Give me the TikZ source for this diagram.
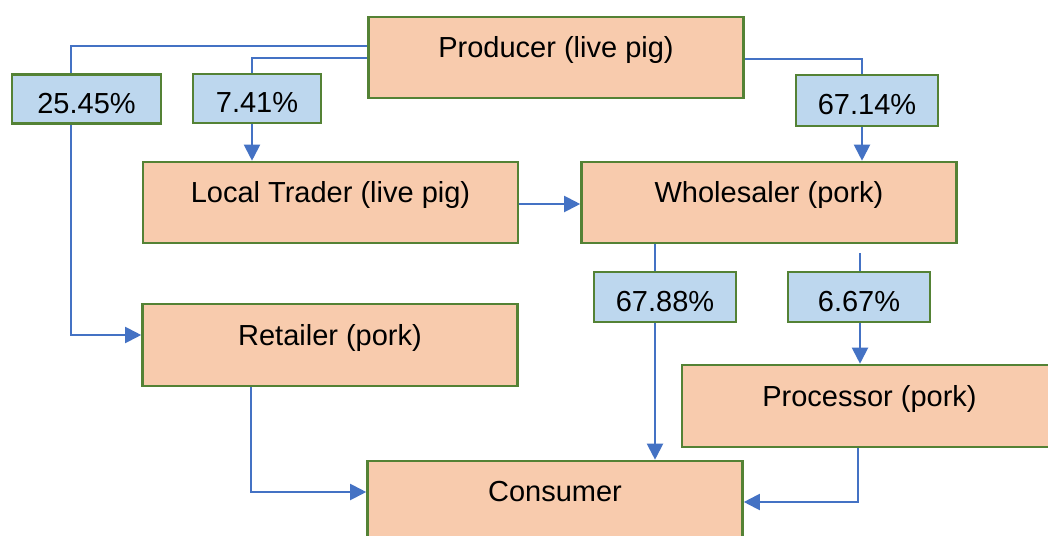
\documentclass[tikz,border=0pt]{standalone}
\usepackage{fontspec}
\setmainfont{Liberation Sans}
\usetikzlibrary{arrows.meta}
\definecolor{peach}{HTML}{F8CBAD}
\definecolor{paleblue}{HTML}{BDD7EE}
\definecolor{boxedge}{HTML}{548235}
\definecolor{flow}{HTML}{4472C4}
\tikzset{
  actor/.style={draw=boxedge, line width=2.6pt, fill=peach, inner sep=0pt,
    minimum width=375pt, minimum height=81pt, text height=0pt, text depth=0pt,
    font=\fontsize{29}{34}\selectfont},
  share/.style={draw=boxedge, line width=2.6pt, fill=paleblue, inner sep=0pt,
    minimum height=49pt, text height=28pt, text depth=0pt,
    font=\fontsize{29}{34}\selectfont},
  conn/.style={draw=flow, line width=2pt},
  arr/.style={conn, -{Triangle[width=16pt,length=16pt]}}
}
\begin{document}
\begin{tikzpicture}[x=1pt,y=-1pt]
\clip (0,0) rectangle (1048,535);
\fill[white] (0,0) rectangle (1048,535);

% market actors
\node[actor] (prod) at (556,57.5)   {Producer (live pig)};
\node[actor] (lt)   at (330.5,202.5) {Local Trader (live pig)};
\node[actor] (wh)   at (769,202.5)   {Wholesaler (pork)};
\node[actor, minimum height=82pt] (ret) at (330,345) {Retailer (pork)};
\node[actor, minimum height=82pt] (proc) at (869.5,406) {Processor (pork)};
\node[actor] (cons) at (555,501.5) {Consumer};

% shares of the flows
\node[share, minimum width=149pt] (p1) at (86.5,99)  {25.45\%};
\node[share, minimum width=128pt, minimum height=49pt] (p2) at (257,98.5) {7.41\%};
\node[share, minimum width=142pt, minimum height=51pt] (p3) at (867,100.5) {67.14\%};
\node[share, minimum width=142pt, minimum height=50pt] (p4) at (665,297) {67.88\%};
\node[share, minimum width=142pt, minimum height=50pt] (p5) at (859,297) {6.67\%};

% producer -> retailer
\draw[conn] ([yshift=11.5pt]prod.west) -| ([xshift=-15.5pt]p1.north);
\draw[arr]  ([xshift=-15.5pt]p1.south) |- ([yshift=10pt]ret.west);

% producer -> local trader
\draw[conn] ([yshift=-0.5pt]prod.west) -| ([xshift=-5pt]p2.north);
\draw[arr]  ([xshift=-5pt]p2.south) -- ([xshift=-5pt]p2.south |- lt.north);

% producer -> wholesaler
\draw[conn] ([yshift=-1.5pt]prod.east) -| ([xshift=-5pt]p3.north);
\draw[arr]  ([xshift=-5pt]p3.south) -- ([xshift=-5pt]p3.south |- wh.north);

% local trader -> wholesaler
\draw[arr] ([yshift=-1.5pt]lt.east) -- ([yshift=-1.5pt]wh.west);

% wholesaler -> consumer
\draw[conn] ([xshift=-10pt]p4.north |- wh.south) -- ([xshift=-10pt]p4.north);
\draw[arr]  ([xshift=-10pt]p4.south) -- ([xshift=-10pt]p4.south |- cons.north);

% wholesaler -> processor
\draw[conn, shorten <=9pt] ([xshift=1pt]p5.north |- wh.south) -- ([xshift=1pt]p5.north);
\draw[arr]  ([xshift=1pt]p5.south) -- ([xshift=1pt]p5.south |- proc.north);

% retailer and processor -> consumer
\draw[arr] ([xshift=-79pt]ret.south) |- ([yshift=9.5pt]cons.west);
\draw[arr] ([xshift=-11.5pt]proc.south) |- ([yshift=-0.5pt]cons.east);
\end{tikzpicture}
\end{document}
